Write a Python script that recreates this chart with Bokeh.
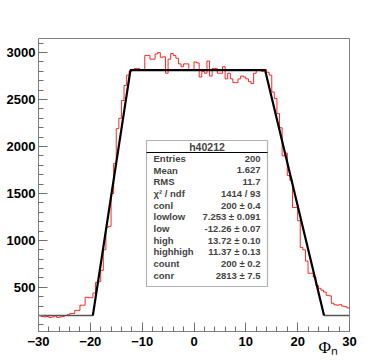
import numpy as np
from bokeh.plotting import figure
from bokeh.models import FixedTicker, Label, BoxAnnotation
from bokeh.embed import file_html
from bokeh.resources import INLINE

# ---------------- data ----------------
hist_lo, hist_hi = -30.0, 30.0
hist_counts = [
    # -30 .. -20
    200, 190, 185, 190, 180, 185, 195, 180, 185, 190,
    200, 210, 220, 222, 255, 255, 310, 310, 395, 390,
    # -20 .. -12
    390, 440, 553, 560, 681, 900, 1140, 1150, 1500, 1820,
    2190, 2300, 2490, 2650, 2760, 2800,
    # -12 .. 13.5
    2810, 2830, 2830, 2810, 2810, 2970, 2970, 2930, 2930, 2985,
    3000, 2950, 2955, 2780, 2930, 2990, 2970, 2940, 2880, 2850,
    2880, 2880, 2810, 2820, 2900, 2890, 2740, 2800, 2780, 2910,
    2750, 2830, 2830, 2780, 2780, 2850, 2720, 2780, 2720, 2680,
    2680, 2720, 2750, 2740, 2720, 2690, 2670, 2780, 2810, 2820,
    2800,
    # 13.5 .. 30
    2820, 2790, 2760, 2580, 2510, 2350, 2200, 1900, 1930, 1690,
    1640, 1350, 1350, 1210, 925, 900, 780, 650, 650, 610,
    520, 490, 470, 450, 415, 410, 330, 315, 310, 315,
    300, 295, 280,
]

# fit parameters
fit_conl = 200.0
fit_lowlow = 7.253
fit_low = -12.26
fit_high = 13.72
fit_highhigh = 11.37
fit_count = 200.0
fit_conr = 2813.0

x_ticks = [-30, -20, -10, 0, 10, 20, 30]
x_minor = list(range(-30, 31, 2))
y_ticks = [500, 1000, 1500, 2000, 2500, 3000]
y_minor = list(range(100, 3200, 100))

x_title = "\u03a6\u2099"

stat_title = "h40212"
stat_names = ["Entries", "Mean", "RMS", "\u03c7\u00b2 / ndf", "conl", "lowlow",
              "low", "high", "highhigh", "count", "conr"]
stat_values = ["200", "1.627", "11.7", "1414 / 93", "200 \u00b1 0.4",
               "7.253 \u00b1 0.091", "-12.26 \u00b1 0.07", "13.72 \u00b1 0.10",
               "11.37 \u00b1 0.13", "200 \u00b1 0.2", "2813 \u00b1 7.5"]

# ---------------- figure ----------------
X_RANGE = (-30, 30)
Y_RANGE = (30, 3150)
FL, FR, FT, FB = 38, 349, 38, 331  # frame in picture pixels (layout only)


def dx(px):
    return X_RANGE[0] + (px - FL) * (X_RANGE[1] - X_RANGE[0]) / (FR - FL)


def dy(py):
    return Y_RANGE[0] + (FB - py) * (Y_RANGE[1] - Y_RANGE[0]) / (FB - FT)


p = figure(width=357, height=361, x_range=X_RANGE, y_range=Y_RANGE,
           output_backend="svg", toolbar_location=None,
           min_border_left=38, min_border_right=8,
           min_border_top=38, min_border_bottom=30)
p.background_fill_color = "white"
p.border_fill_color = "white"
p.outline_line_color = "#808080"
p.outline_line_width = 1
p.grid.visible = False

for ax, tk, mn, standoff in ((p.xaxis, x_ticks, x_minor, 5), (p.yaxis, y_ticks, y_minor, 3)):
    ax.ticker = FixedTicker(ticks=tk, minor_ticks=mn)
    ax.major_tick_in = 9
    ax.major_tick_out = 0
    ax.minor_tick_in = 5
    ax.minor_tick_out = 0
    ax.axis_line_color = "#808080"
    ax.major_tick_line_color = "#707070"
    ax.minor_tick_line_color = "#707070"
    ax.major_label_text_font = "Liberation Sans"
    ax.major_label_text_font_style = "bold"
    ax.major_label_text_font_size = "13px"
    ax.major_label_text_color = "black"
    ax.major_label_standoff = standoff

# x-axis title, end-aligned and lifted to the tick-label row
# (non-breaking padding, closed by a zero-width space so it is not trimmed)
xa = p.xaxis[0]
xa.axis_label = x_title + "\u00a0" * 10 + "\u200b"
xa.axis_label_align = "end"
xa.axis_label_text_font = "Liberation Serif"
xa.axis_label_text_font_style = "normal"
xa.axis_label_text_font_size = "17px"
xa.axis_label_text_color = "black"
xa.axis_label_standoff = -11

# histogram
edges = np.linspace(hist_lo, hist_hi, len(hist_counts) + 1)
p.step(edges, list(hist_counts) + [hist_counts[-1]], mode="after",
       line_color="red", line_width=1, line_alpha=0.85)

# fit function (trapezoid)
x_a = fit_low - fit_lowlow
x_d = fit_high + fit_highhigh
p.line([X_RANGE[0], x_a], [fit_conl, fit_conl], line_color="#555555", line_width=1.5)
p.line([x_d, X_RANGE[1]], [fit_count, fit_count], line_color="#555555", line_width=1.5)
p.line([x_a, fit_low, fit_high, x_d], [fit_conl, fit_conr, fit_conr, fit_count],
       line_color="black", line_width=2.2)

# stats box
p.add_layout(BoxAnnotation(left=dx(146), right=dx(267), top=dy(140), bottom=dy(286),
                           fill_color="white", fill_alpha=1.0,
                           line_color="black", line_width=1.2))
p.segment(x0=[dx(146)], y0=[dy(152)], x1=[dx(267)], y1=[dy(152)],
          line_color="black", line_width=1, level="overlay")
p.add_layout(Label(x=dx(206.5), y=dy(146), text=stat_title, text_align="center",
                   text_baseline="middle", text_font="Liberation Sans",
                   text_font_style="bold", text_font_size="10.5px", level="overlay"))
for k, (nm, vl) in enumerate(zip(stat_names, stat_values)):
    yy = dy(158 + 11.65 * k)
    p.add_layout(Label(x=dx(153), y=yy, text=nm, text_align="left",
                       text_baseline="middle", text_font="Liberation Sans",
                       text_font_style="bold", text_font_size="9.5px", level="overlay"))
    p.add_layout(Label(x=dx(260), y=yy, text=vl, text_align="right",
                       text_baseline="middle", text_font="Liberation Sans",
                       text_font_style="bold", text_font_size="9.5px", level="overlay"))

open("out.html", "w").write(file_html(p, INLINE))
